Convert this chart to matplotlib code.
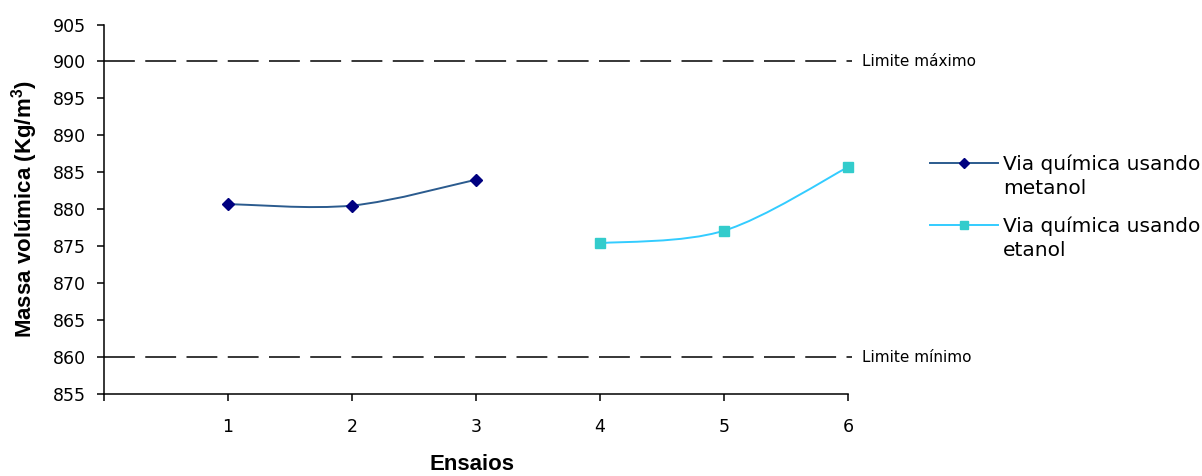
import numpy as np
import matplotlib
matplotlib.use('Agg')
import matplotlib.pyplot as plt
from matplotlib.path import Path
from matplotlib.patches import PathPatch
from matplotlib.lines import Line2D

plt.rcParams['font.family'] = ['DejaVu Sans']

# data
ensaios_met = [1, 2, 3]
massa_met = [880.7, 880.5, 884.0]
ensaios_et = [4, 5, 6]
massa_et = [875.4, 877.1, 885.7]
limite_max = 900
limite_min = 860
x_ticks = [1, 2, 3, 4, 5, 6]
y_ticks = list(range(855, 906, 5))
series_labels = ['Via química usando\nmetanol', 'Via química usando\netanol']

met_color = '#2b5b8e'
met_marker = '#000080'
et_color = '#33ccff'
et_marker = '#33cccc'

W, H = 1202, 476


def smooth_path(xs, ys, t=1/6):
    # Excel-style smoothed line: cubic bezier through the points
    xs = np.asarray(xs, float)
    ys = np.asarray(ys, float)
    n = len(xs)
    verts = [(xs[0], ys[0])]
    codes = [Path.MOVETO]
    for i in range(n - 1):
        p0 = np.array([xs[max(i - 1, 0)], ys[max(i - 1, 0)]])
        p1 = np.array([xs[i], ys[i]])
        p2 = np.array([xs[i + 1], ys[i + 1]])
        p3 = np.array([xs[min(i + 2, n - 1)], ys[min(i + 2, n - 1)]])
        c1 = p1 + (p2 - p0) * t
        c2 = p2 - (p3 - p1) * t
        verts += [tuple(c1), tuple(c2), tuple(p2)]
        codes += [Path.CURVE4] * 3
    return Path(verts, codes)


fig = plt.figure(figsize=(W / 100, H / 100), dpi=100)
ax_l, ax_r, ax_t, ax_b = 104, 848, 24.5, 394
ax = fig.add_axes([ax_l / W, 1 - ax_b / H, (ax_r - ax_l) / W, (ax_b - ax_t) / H])

# limit lines (run a little past the last category, as in the original)
for lim in [limite_max, limite_min]:
    ax.plot([0, 6.03], [lim, lim], color='black', lw=1.1, dashes=(20.2, 6.8),
            clip_on=False, zorder=1)

ax.add_patch(PathPatch(smooth_path(ensaios_met, massa_met), fill=False,
                       edgecolor=met_color, lw=1.4, zorder=2, clip_on=False))
ax.plot(ensaios_met, massa_met, ls='none', marker='D', ms=6.5, color=met_marker,
        zorder=3, clip_on=False)
ax.add_patch(PathPatch(smooth_path(ensaios_et, massa_et), fill=False,
                       edgecolor=et_color, lw=1.4, zorder=2, clip_on=False))
ax.plot(ensaios_et, massa_et, ls='none', marker='s', ms=7, color=et_marker,
        zorder=3, clip_on=False)

ax.set_xlim(0, 6)
ax.set_ylim(855, 905)
ax.set_yticks(y_ticks)
ax.set_xticks([0] + x_ticks)
ax.set_xticklabels([''] + [str(v) for v in x_ticks])
ax.tick_params(axis='both', labelsize=12.5, direction='out', length=5, width=1.1,
               colors='black')
ax.tick_params(axis='y', pad=8)
ax.tick_params(axis='x', pad=12)
for s in ['top', 'right']:
    ax.spines[s].set_visible(False)
ax.spines['left'].set_linewidth(1.1)
ax.spines['bottom'].set_linewidth(1.1)

ax.set_xlabel('Ensaios', fontsize=16, fontweight='bold', family='Liberation Sans',
              va='center')
ax.xaxis.set_label_coords((472 - ax_l) / (ax_r - ax_l), (ax_b - 464) / (ax_b - ax_t))
ax.set_ylabel('Massa volúmica (Kg/m$^\\mathregular{3}$)', fontsize=16,
              fontweight='bold', family='Liberation Sans', va='center')
ax.yaxis.set_label_coords((25 - ax_l) / (ax_r - ax_l), 0.5)

fig.text(862 / W, 1 - 61 / H, 'Limite máximo', fontsize=11, va='center')
fig.text(862 / W, 1 - 357 / H, 'Limite mínimo', fontsize=11, va='center')

# legend, drawn by hand so the key sits on the first text line (Excel style)
leg_rows = [163, 225]
leg_styles = [(met_color, 'D', 5.5, met_marker), (et_color, 's', 6, et_marker)]
for yrow, lab, (lc, mk, ms, mc) in zip(leg_rows, series_labels, leg_styles):
    fig.add_artist(Line2D([930 / W, 998 / W], [1 - yrow / H] * 2, lw=1.4, color=lc))
    fig.add_artist(Line2D([964 / W], [1 - yrow / H], ls='none', marker=mk,
                          ms=ms, mfc=mc, mec=mc))
    fig.text(1003 / W, 1 - (yrow + 13) / H, lab, fontsize=14.5, va='center',
             linespacing=1.3)

fig.savefig('out.png', dpi=100)
